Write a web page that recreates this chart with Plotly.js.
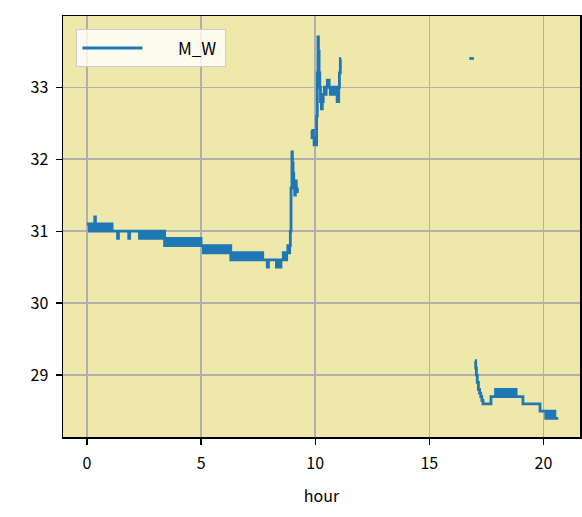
<!DOCTYPE html>
<html><head><meta charset="utf-8">
<script src="https://cdn.plot.ly/plotly-3.0.1.min.js"></script>
<style>html,body{margin:0;padding:0;background:#fff;}</style>
</head><body><div id="chart" style="width:582px;height:517px;"></div>
<script>
const seriesName = "M_W";
const hour1 = [0.0,0.1,0.2,0.3,0.34,0.37,0.4,0.5,0.6,0.7,0.8,0.9,1.0,1.1,1.2,1.34,1.38,1.6,1.83,1.87,2.1,2.3,2.4,2.5,2.6,2.7,2.8,2.9,3.0,3.1,3.2,3.3,3.35,3.4,3.5,3.6,3.7,3.8,3.9,4.0,4.1,4.2,4.3,4.4,4.5,4.6,4.7,4.8,4.9,5.0,5.1,5.2,5.3,5.4,5.5,5.6,5.7,5.8,5.9,6.0,6.1,6.2,6.3,6.4,6.5,6.6,6.7,6.8,6.9,7.0,7.1,7.2,7.3,7.4,7.5,7.6,7.7,7.8,7.9,7.95,8.0,8.1,8.2,8.3,8.35,8.45,8.5,8.6,8.7,8.75,8.8,8.85,8.88,8.91,8.94,8.98,9.0,9.03,9.06,9.1,9.13,9.17,9.22,9.25];
const mw1 = [31.1,31.0,31.1,31.0,31.2,31.0,31.1,31.0,31.1,31.0,31.1,31.0,31.1,31.0,31.0,30.9,31.0,31.0,30.9,31.0,31.0,30.9,31.0,30.9,31.0,30.9,31.0,30.9,31.0,30.9,31.0,30.9,31.0,30.8,30.9,30.8,30.9,30.8,30.9,30.8,30.9,30.8,30.9,30.8,30.9,30.8,30.9,30.8,30.9,30.8,30.7,30.8,30.7,30.8,30.7,30.8,30.7,30.8,30.7,30.8,30.7,30.8,30.6,30.7,30.6,30.7,30.6,30.7,30.6,30.7,30.6,30.7,30.6,30.7,30.6,30.7,30.6,30.6,30.5,30.6,30.6,30.6,30.6,30.5,30.6,30.5,30.6,30.7,30.6,30.7,30.8,30.7,30.8,31.0,31.6,32.1,31.95,31.8,31.65,31.5,31.7,31.55,31.6,31.6];
const hour2 = [9.83,9.86,9.89,9.92,9.95,9.98,10.0,10.03,10.06,10.09,10.12,10.14,10.17,10.2,10.23,10.27,10.31,10.35,10.4,10.44,10.48,10.53,10.57,10.61,10.66,10.71,10.76,10.81,10.86,10.91,10.96,11.0,11.03,11.06,11.1,11.12];
const mw2 = [32.4,32.3,32.4,32.3,32.2,32.3,32.2,32.2,32.6,33.2,33.7,33.5,33.2,33.0,32.8,32.7,32.8,32.9,33.0,32.9,33.0,33.1,33.1,33.0,32.9,32.9,33.0,32.9,33.0,32.9,32.8,32.8,33.0,33.2,33.4,33.4];
const hour3 = [16.75,16.95];
const mw3 = [33.4,33.4];
const hour4 = [17.0,17.03,17.06,17.1,17.15,17.2,17.25,17.3,17.35,17.5,17.65,17.7,17.8,17.9,18.0,18.1,18.2,18.3,18.4,18.5,18.6,18.7,18.8,18.9,19.0,19.1,19.3,19.5,19.7,19.8,19.85,20.0,20.1,20.2,20.3,20.4,20.5,20.6,20.65];
const mw4 = [29.2,29.1,29.0,28.9,28.8,28.75,28.7,28.65,28.6,28.6,28.6,28.7,28.7,28.8,28.7,28.8,28.7,28.8,28.7,28.8,28.7,28.8,28.7,28.7,28.7,28.6,28.6,28.6,28.6,28.6,28.5,28.5,28.4,28.5,28.4,28.5,28.4,28.4,28.4];
const xTicks = [0,5,10,15,20];
const yTicks = [29,30,31,32,33];

const x = [...hour1, null, ...hour2, null, ...hour3, null, ...hour4];
const y = [...mw1, null, ...mw2, null, ...mw3, null, ...mw4];

const font = {family: '"Noto Sans CJK JP", "DejaVu Sans", sans-serif', size: 16, color: '#000'};
const data = [{
  x: x, y: y, type: 'scatter', mode: 'lines', name: '\u00a0\u00a0\u00a0\u00a0\u00a0\u00a0\u00a0\u00a0' + seriesName + '\u00a0',
  line: {color: '#1f77b4', width: 2.8, shape: 'hv'}, connectgaps: false
}];
const layout = {
  width: 582, height: 517,
  margin: {l: 63, r: 2, t: 16, b: 80},
  paper_bgcolor: '#ffffff', plot_bgcolor: '#eee8aa',
  font: font,
  showlegend: true,
  legend: {x: 0.026, y: 0.968, xanchor: 'left', yanchor: 'top', bgcolor: 'rgba(255,255,255,0.8)', bordercolor: '#cccccc', borderwidth: 1, font: {family: font.family, size: 17, color: '#000'}, itemwidth: 60},
  xaxis: {range: [-1.05, 21.6], tickvals: xTicks, ticktext: xTicks.map(String), showgrid: true, gridcolor: '#b0b0b0', gridwidth: 1.5,
    zeroline: false, showline: true, linecolor: '#000', linewidth: 1.5, mirror: true, ticks: 'outside', ticklen: 6, tickwidth: 1.3, tickcolor: '#000',
    ticklabelstandoff: 5, title: {text: 'hour', font: font, standoff: 18}},
  yaxis: {range: [28.14, 33.99], tickvals: yTicks, ticktext: yTicks.map(String), showgrid: true, gridcolor: '#b0b0b0', gridwidth: 1.5,
    zeroline: false, showline: true, linecolor: '#000', linewidth: 1.5, mirror: true, ticks: 'outside', ticklen: 6, tickwidth: 1.3, tickcolor: '#000',
    ticklabelstandoff: 4}
};
Plotly.newPlot('chart', data, layout, {displayModeBar: false, staticPlot: true});
</script></body></html>
